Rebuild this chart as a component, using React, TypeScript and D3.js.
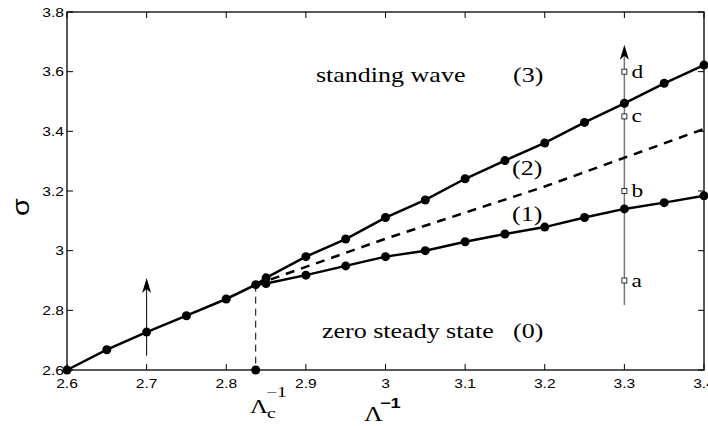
import React from "react";
import * as d3 from "d3";

const xTicks = [2.6, 2.7, 2.8, 2.9, 3.0, 3.1, 3.2, 3.3, 3.4];
const yTicks = [2.6, 2.8, 3.0, 3.2, 3.4, 3.6, 3.8];
const xTickLabels = ["2.6", "2.7", "2.8", "2.9", "3", "3.1", "3.2", "3.3", "3.4"];
const yTickLabels = ["2.6", "2.8", "3", "3.2", "3.4", "3.6", "3.8"];

const commonX = [2.6, 2.65, 2.7, 2.75, 2.8, 2.837];
const commonY = [2.6, 2.668, 2.727, 2.782, 2.838, 2.886];

const upperX = [2.837, 2.85, 2.9, 2.95, 3.0, 3.05, 3.1, 3.15, 3.2, 3.25, 3.3, 3.35, 3.4];
const upperY = [2.886, 2.909, 2.98, 3.039, 3.111, 3.17, 3.241, 3.302, 3.361, 3.43, 3.494, 3.561, 3.622];

const lowerX = [2.837, 2.85, 2.9, 2.95, 3.0, 3.05, 3.1, 3.15, 3.2, 3.25, 3.3, 3.35, 3.4];
const lowerY = [2.886, 2.89, 2.918, 2.949, 2.98, 3.0, 3.03, 3.056, 3.079, 3.111, 3.14, 3.161, 3.184];

const dashedX = [2.837, 3.0, 3.2, 3.4];
const dashedY = [2.886, 3.04, 3.215, 3.408];

const critX = 2.837;
const critY = 2.886;

const probeX = 3.3;
const probeLabels = ["a", "b", "c", "d"];
const probeY = [2.9, 3.2, 3.45, 3.6];
const probeArrow = [2.818, 3.69];
const leftArrowX = 2.7;
const leftArrow = [2.648, 2.908];

const L = 67, R = 704, T = 12, B = 370;

export default function App() {
  const x = d3.scaleLinear().domain([2.6, 3.4]).range([L, R]);
  const y = d3.scaleLinear().domain([2.6, 3.8]).range([B, T]);
  const line = d3
    .line<[number, number]>()
    .x((d) => x(d[0]))
    .y((d) => y(d[1]));
  const zip = (a: number[], b: number[]) => a.map((v, i) => [v, b[i]] as [number, number]);
  const common = zip(commonX, commonY);
  const upper = zip(upperX, upperY);
  const lower = zip(lowerX, lowerY);
  const dashed = zip(dashedX, dashedY);
  const sans = "'Liberation Sans', Arial, sans-serif";
  const serif = "'Liberation Serif', 'Times New Roman', serif";
  const sx = 1.3;

  const arrowHead = (cx: number, tipY: number) => {
    const w = 4.5, h = 15, notch = 4;
    return `M${cx},${tipY} L${cx + w},${tipY + h} L${cx},${tipY + h - notch} L${cx - w},${tipY + h} Z`;
  };

  const stretchText = (
    txt: string,
    tx: number,
    ty: number,
    size: number,
    family: string,
    anchor: string = "start",
    weight: string = "normal"
  ) => (
    <text
      transform={`translate(${tx},${ty}) scale(${sx},1)`}
      fontFamily={family}
      fontSize={size}
      fontWeight={weight}
      textAnchor={anchor}
      fill="#000"
    >
      {txt}
    </text>
  );

  return (
    <svg
      width={708}
      height={426}
      style={{ position: "absolute", left: 0, top: 0, background: "#fff" }}
    >
      <rect x={0} y={0} width={708} height={426} fill="#fff" />
      {/* ticks */}
      {xTicks.map((t, i) => (
        <g key={"xt" + i}>
          <line x1={x(t)} x2={x(t)} y1={B} y2={B - 6} stroke="#000" strokeWidth={1} />
          <line x1={x(t)} x2={x(t)} y1={T} y2={T + 6} stroke="#000" strokeWidth={1} />
          {stretchText(xTickLabels[i], x(t), 388, 12, sans, "middle")}
        </g>
      ))}
      {yTicks.map((t, i) => (
        <g key={"yt" + i}>
          <line x1={L} x2={L + 6} y1={y(t)} y2={y(t)} stroke="#000" strokeWidth={1} />
          <line x1={R} x2={R - 6} y1={y(t)} y2={y(t)} stroke="#000" strokeWidth={1} />
          {stretchText(yTickLabels[i], 64, y(t) + 4.5, 12, sans, "end")}
        </g>
      ))}
      {/* box */}
      <rect x={L} y={T} width={R - L} height={B - T} fill="none" stroke="#000" strokeWidth={1.3} />

      {/* vertical dashed critical line */}
      <line
        x1={x(critX)}
        x2={x(critX)}
        y1={y(critY)}
        y2={y(2.6)}
        stroke="#000"
        strokeWidth={1}
        strokeDasharray="7,5"
      />
      <circle cx={x(critX)} cy={y(2.6)} r={4.5} fill="#000" />

      {/* left arrow */}
      <line x1={x(leftArrowX)} x2={x(leftArrowX)} y1={y(leftArrow[0])} y2={y(leftArrow[1]) + 6} stroke="#000" strokeWidth={1} />
      <path d={arrowHead(x(leftArrowX), y(leftArrow[1]))} fill="#000" />

      {/* probe line */}
      <line x1={x(probeX)} x2={x(probeX)} y1={y(probeArrow[0])} y2={y(probeArrow[1]) + 6} stroke="#777" strokeWidth={1.5} />
      <path d={arrowHead(x(probeX), y(probeArrow[1]))} fill="#000" />

      {/* dashed branch */}
      <path d={line(dashed) || ""} fill="none" stroke="#000" strokeWidth={2.5} strokeDasharray="9,7" />

      {/* curves */}
      <path d={line(common) || ""} fill="none" stroke="#000" strokeWidth={2.5} />
      <path d={line(upper) || ""} fill="none" stroke="#000" strokeWidth={2.5} />
      <path d={line(lower) || ""} fill="none" stroke="#000" strokeWidth={2.5} />
      {common.map((d, i) => (
        <circle key={"c" + i} cx={x(d[0])} cy={y(d[1])} r={4.5} fill="#000" />
      ))}
      {upper.slice(1).map((d, i) => (
        <circle key={"u" + i} cx={x(d[0])} cy={y(d[1])} r={4.5} fill="#000" />
      ))}
      {lower.slice(1).map((d, i) => (
        <circle key={"l" + i} cx={x(d[0])} cy={y(d[1])} r={4.5} fill="#000" />
      ))}

      {/* probe squares */}
      {probeY.map((v, i) => (
        <g key={"p" + i}>
          <rect x={x(probeX) - 2.5} y={y(v) - 2.5} width={5} height={5} fill="#fff" stroke="#000" strokeWidth={0.8} />
          {stretchText(probeLabels[i], x(probeX) + 7, y(v) + 6, 18, serif)}
        </g>
      ))}

      {/* region labels */}
      {stretchText("standing wave", 316, 82, 20, serif)}
      {stretchText("(3)", 513, 82, 20, serif)}
      {stretchText("(2)", 512, 174.5, 20, serif)}
      {stretchText("(1)", 512, 220.5, 20, serif)}
      {stretchText("zero steady state", 322, 338, 20, serif)}
      {stretchText("(0)", 513, 338, 20, serif)}

      {/* y label */}
      <text
        transform={`translate(29,207) rotate(-90) scale(1.2,1)`}
        fontFamily={sans}
        fontSize={24}
        textAnchor="middle"
        fill="#000"
      >
        σ
      </text>

      {/* x label */}
      {stretchText("Λ", 364, 421, 20, serif)}
      {stretchText("−1", 380, 408, 14, sans, "start", "bold")}

      {/* critical label */}
      {stretchText("Λ", 250, 413, 19, serif)}
      {stretchText("−1", 266, 397, 15, serif)}
      {stretchText("c", 267, 418, 15, serif)}
    </svg>
  );
}
